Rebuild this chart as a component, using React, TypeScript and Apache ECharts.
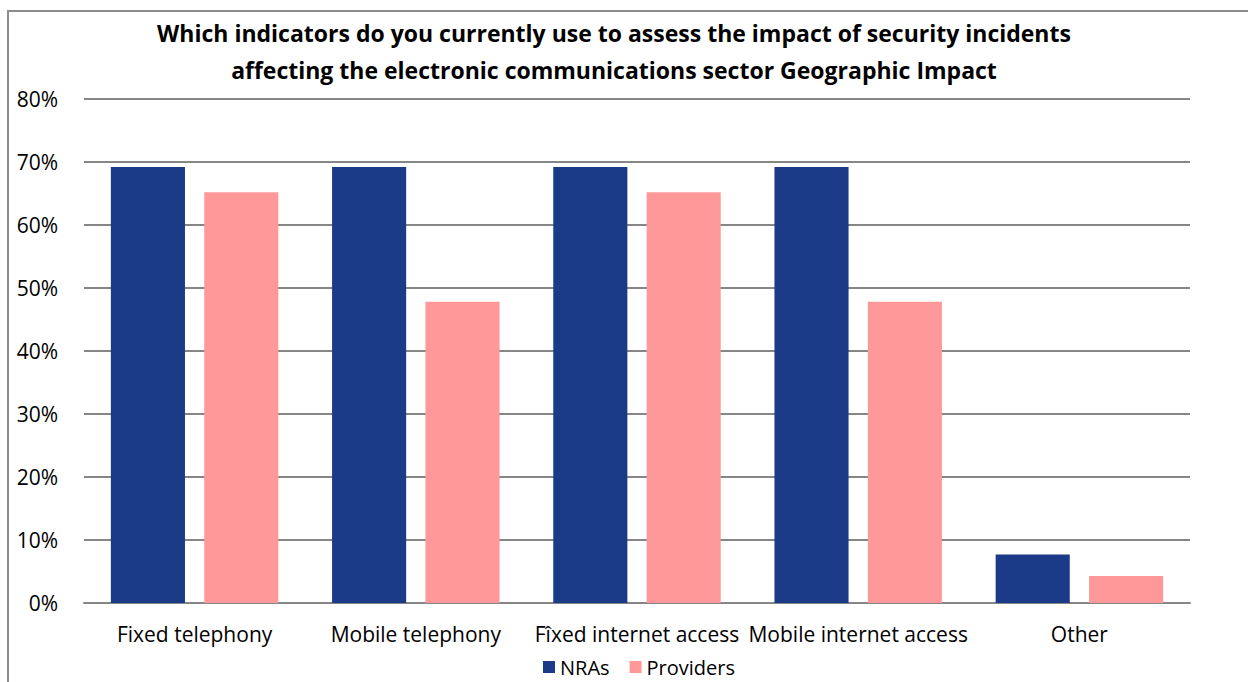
import React, { useEffect, useRef } from "react";
import * as echarts from "echarts";

const categories = ["Fixed telephony", "Mobile telephony", "Fîxed internet access", "Mobile internet access", "Other"];
const nras = [69.2, 69.2, 69.2, 69.2, 7.7];
const providers = [65.2, 47.8, 65.2, 47.8, 4.3];
const titleText = "Which indicators do you currently use to assess the impact of security incidents\naffecting the electronic communications sector Geographic Impact";
const FONT = "'Open Sans', 'Noto Sans', sans-serif";

export default function App() {
  const ref = useRef<HTMLDivElement>(null);
  useEffect(() => {
    if (!ref.current) return;
    const chart = echarts.init(ref.current, null, { renderer: "svg" });
    chart.setOption({
      animation: false,
      backgroundColor: "#ffffff",
      title: {
        text: titleText,
        left: 609,
        top: 9,
        textAlign: "center",
        textStyle: { fontFamily: FONT, fontSize: 23, fontWeight: "bold", color: "#000", lineHeight: 37 },
      },
      graphic: [
        {
          type: "rect",
          shape: { x: 8, y: 11, width: 1400, height: 800 },
          style: { fill: "none", stroke: "#8c8c8c", lineWidth: 2 },
          silent: true,
          z: -1,
        },
      ],
      legend: {
        top: 656,
        left: 538,
        itemWidth: 12,
        itemHeight: 12,
        itemGap: 20,
        icon: "rect",
        padding: [0, 5],
        textStyle: { fontFamily: FONT, fontSize: 20, color: "#000", lineHeight: 22 },
        data: ["NRAs", "Providers"],
      },
      grid: { left: 84, right: 58, top: 99, bottom: 79, containLabel: false },
      xAxis: {
        type: "category",
        data: categories,
        axisLine: { show: true, lineStyle: { color: "#868686", width: 2 } },
        axisTick: { show: false },
        axisLabel: { fontFamily: FONT, fontSize: 21, color: "#000", margin: 20, interval: 0 },
      },
      yAxis: {
        type: "value",
        min: 0,
        max: 80,
        interval: 10,
        axisLine: { show: false },
        axisTick: { show: false },
        axisLabel: { fontFamily: FONT, fontSize: 21, color: "#000", margin: 26, formatter: "{value}%" },
        splitLine: { lineStyle: { color: "#868686", width: 2 } },
      },
      series: [
        {
          name: "NRAs",
          type: "bar",
          data: nras,
          barWidth: "33.5%",
          barGap: "26%",
          itemStyle: { color: "#1b3a87" },
        },
        {
          name: "Providers",
          type: "bar",
          data: providers,
          barWidth: "33.5%",
          itemStyle: { color: "#ff9999" },
        },
      ],
    });
    return () => chart.dispose();
  }, []);
  return <div ref={ref} style={{ position: "absolute", left: 0, top: 0, width: 1248, height: 682 }} />;
}
